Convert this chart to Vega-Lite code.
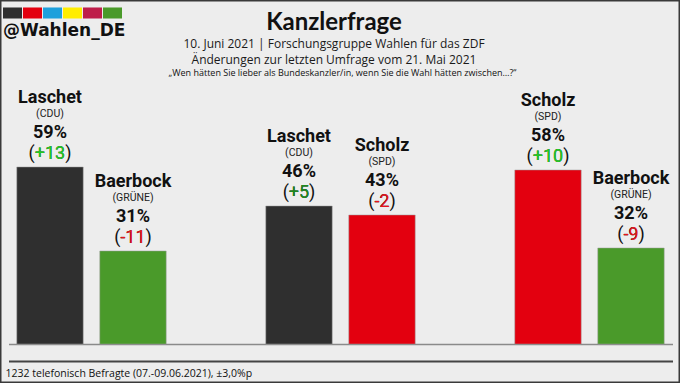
{
  "$schema": "https://vega.github.io/schema/vega-lite/v6.json",
  "width": 680,
  "height": 383,
  "autosize": {"type": "none"},
  "padding": 0,
  "background": "#ededed",
  "config": {
    "view": {"stroke": "#3a3a3a", "strokeWidth": 3, "fill": null},
    "font": "Roboto"
  },
  "title": {
    "text": "Kanzlerfrage",
    "subtitle": ["10. Juni 2021 | Forschungsgruppe Wahlen für das ZDF", "Änderungen zur letzten Umfrage vom 21. Mai 2021"],
    "anchor": "middle",
    "frame": "group",
    "orient": "top",
    "offset": -66,
    "font": "Lato",
    "fontSize": 24,
    "fontWeight": "bold",
    "color": "#111111",
    "subtitleFont": "Open Sans",
    "subtitleFontSize": 12,
    "subtitleColor": "#1a1a1a",
    "subtitlePadding": 4,
    "subtitleLineHeight": 16,
    "dx": -6
  },
  "data": {
    "values": [
      {"slot": "LB_Laschet", "name": "Laschet", "party": "CDU", "value": 59, "change": 13},
      {"slot": "LB_Baerbock", "name": "Baerbock", "party": "GRÜNE", "value": 31, "change": -11},
      {"slot": "LS_Laschet", "name": "Laschet", "party": "CDU", "value": 46, "change": 5},
      {"slot": "LS_Scholz", "name": "Scholz", "party": "SPD", "value": 43, "change": -2},
      {"slot": "SB_Scholz", "name": "Scholz", "party": "SPD", "value": 58, "change": 10},
      {"slot": "SB_Baerbock", "name": "Baerbock", "party": "GRÜNE", "value": 32, "change": -9}
    ]
  },
  "transform": [
    {"calculate": "'(' + datum.party + ')'", "as": "partyLabel"},
    {"calculate": "datum.value + '%'", "as": "pctLabel"},
    {"calculate": "(datum.change > 0 ? '+' : '') + datum.change", "as": "changeLabel"},
    {"calculate": "'(' + datum.changeLabel + ')'", "as": "changeParen"}
  ],
  "encoding": {
    "x": {
      "field": "slot",
      "type": "nominal",
      "sort": null,
      "scale": {
        "type": "band",
        "domain": ["LB_Laschet", "LB_Baerbock", "gap1", "LS_Laschet", "LS_Scholz", "gap2", "SB_Scholz", "SB_Baerbock"],
        "range": [8.5, 672.5],
        "paddingInner": 0.2,
        "paddingOuter": 0.1
      },
      "axis": {
        "orient": "bottom",
        "offset": -22,
        "labels": false,
        "ticks": false,
        "grid": false,
        "domain": true,
        "domainColor": "#444444",
        "domainWidth": 2,
        "title": "1232 telefonisch Befragte (07.-09.06.2021), ±3,0%p",
        "titleFont": "Open Sans",
        "titleFontSize": 10.5,
        "titleFontWeight": "normal",
        "titleColor": "#111111",
        "titleAlign": "left",
        "titleAnchor": "start",
        "titleBaseline": "alphabetic",
        "titleX": 5,
        "titleY": 15
      }
    },
    "y": {
      "field": "value",
      "type": "quantitative",
      "scale": {"domain": [0, 100], "range": [344, 44], "nice": false},
      "axis": {
        "orient": "left",
        "values": [0],
        "labels": false,
        "ticks": false,
        "domain": false,
        "grid": true,
        "gridColor": "#8a8a8a",
        "gridWidth": 1.5,
        "title": "„Wen hätten Sie lieber als Bundeskanzler/in, wenn Sie die Wahl hätten zwischen…?“",
        "titleAngle": 0,
        "titleFont": "Open Sans",
        "titleFontSize": 9,
        "titleFontWeight": "normal",
        "titleColor": "#111111",
        "titleAlign": "center",
        "titleBaseline": "alphabetic",
        "titleX": 342,
        "titleY": 75
      }
    }
  },
  "layer": [
    {
      "mark": {"type": "bar", "stroke": "#9a9a9a", "strokeWidth": 0.5},
      "encoding": {
        "color": {
          "field": "party",
          "type": "nominal",
          "scale": {
            "domain": ["CDU", "SPD", "AfD", "FDP", "LINKE", "GRÜNE"],
            "range": ["#2f2f2f", "#e3000f", "#1ea0dc", "#ffed00", "#be1e4a", "#4a9a2a"]
          },
          "legend": {
            "orient": "none",
            "legendX": 3,
            "legendY": 3,
            "direction": "horizontal",
            "columns": 6,
            "symbolType": "M-1,-0.58H1V0.58H-1Z",
            "symbolSize": 361,
            "symbolStrokeWidth": 0,
            "symbolOpacity": 1,
            "labelExpr": "''",
            "labelOffset": 0,
            "columnPadding": 1,
            "padding": 0,
            "title": "@Wahlen_DE",
            "titleOrient": "bottom",
            "titleAnchor": "start",
            "titleFont": "DejaVu Sans",
            "titleFontSize": 17,
            "titleFontWeight": "bold",
            "titleColor": "#111111",
            "titlePadding": 4
          }
        }
      }
    },
    {
      "mark": {"type": "text", "dy": -64, "fontSize": 18, "fontWeight": "bold", "baseline": "alphabetic", "color": "#111111"},
      "encoding": {"text": {"field": "name"}}
    },
    {
      "mark": {"type": "text", "dy": -50, "fontSize": 10.5, "baseline": "alphabetic", "color": "#222222"},
      "encoding": {"text": {"field": "partyLabel"}}
    },
    {
      "mark": {"type": "text", "dy": -29, "fontSize": 18, "fontWeight": "bold", "baseline": "alphabetic", "color": "#111111"},
      "encoding": {"text": {"field": "pctLabel"}}
    },
    {
      "mark": {"type": "text", "dy": -8, "fontSize": 18, "baseline": "alphabetic", "color": "#111111"},
      "encoding": {"text": {"field": "changeParen"}}
    },
    {
      "mark": {"type": "text", "dy": -8, "fontSize": 18, "baseline": "alphabetic"},
      "encoding": {
        "text": {"field": "changeLabel"},
        "fill": {
          "field": "change",
          "type": "quantitative",
          "scale": {"type": "threshold", "domain": [0, 8], "range": ["#e8141c", "#1e8a1e", "#22cc22"]},
          "legend": null
        }
      }
    }
  ]
}
